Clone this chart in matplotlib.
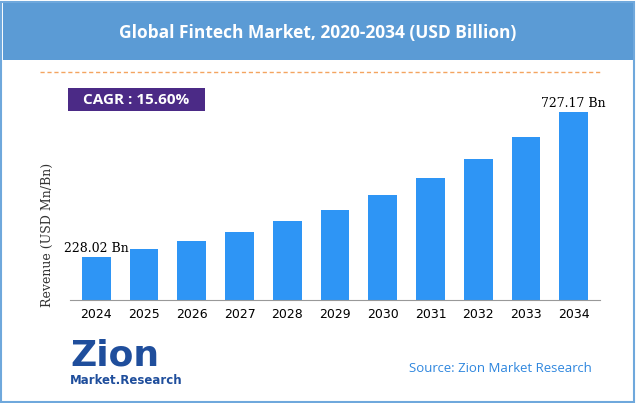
import matplotlib.pyplot as plt
from matplotlib.patches import Rectangle

years = ["2024", "2025", "2026", "2027", "2028", "2029", "2030", "2031", "2032", "2033", "2034"]
revenue = [228.02, 256, 283, 314, 352, 390, 441, 500, 565, 641, 727.17]
first_label = "228.02 Bn"
last_label = "727.17 Bn"

W, H = 636, 403
fig = plt.figure(figsize=(W / 100, H / 100), dpi=100)
fig.patch.set_facecolor("white")

# outer border and title banner
fig.add_artist(Rectangle((1 / W, 1 / H), 1 - 3 / W, 1 - 3 / H, transform=fig.transFigure,
                         fill=False, edgecolor="#6fa8dc", lw=1.5))
fig.add_artist(Rectangle((3 / W, 1 - 60 / H), 1 - 6 / W, 57 / H, transform=fig.transFigure,
                         facecolor="#5b9bd5", edgecolor="none"))
fig.text(0.5, 1 - 33 / H, "Global Fintech Market, 2020-2034 (USD Billion)", ha="center", va="center",
         color="white", fontsize=12.5, fontweight="bold", family="Open Sans")
fig.add_artist(plt.Line2D([40 / W, 600 / W], [1 - 72 / H, 1 - 72 / H], transform=fig.transFigure,
                          color="#f4a460", lw=1, ls=(0, (3, 2))))

# CAGR box
fig.add_artist(Rectangle((68 / W, 1 - 111 / H), 137 / W, 23 / H, transform=fig.transFigure,
                         facecolor="#4b2a86", edgecolor="none"))
fig.text(136 / W, 1 - 100 / H, "CAGR : 15.60%", ha="center", va="center", color="white",
         fontsize=11, fontweight="bold", family="Open Sans")

ax = fig.add_axes([70 / W, 1 - 300 / H, 530 / W, 200 / H])
x = range(len(years))
ax.bar(x, revenue, width=0.6, color="#2e95f5")
ax.set_ylim(80, 768)
ax.set_xlim(-0.55, len(years) - 0.45)
ax.set_xticks(list(x))
ax.set_xticklabels(years, fontsize=9, family="DejaVu Sans")
ax.tick_params(axis="x", length=0, pad=6)
ax.set_yticks([])
for s in ["top", "right", "left"]:
    ax.spines[s].set_visible(False)
ax.spines["bottom"].set_color("#999999")
ax.text(0, revenue[0] + 8, first_label, ha="center", va="bottom", fontsize=9, family="DejaVu Serif")
ax.text(len(years) - 1, revenue[-1] + 8, last_label, ha="center", va="bottom", fontsize=9, family="DejaVu Serif")
fig.text(47 / W, 1 - 235 / H, "Revenue (USD Mn/Bn)", rotation=90, ha="center", va="center",
         fontsize=9, family="DejaVu Serif", color="#333333")

# logo and source
fig.text(70 / W, 1 - 355 / H, "Zion", fontsize=26, fontweight="bold", color="#1f4e9c", va="center",
         family="DejaVu Sans")
fig.text(70 / W, 1 - 381 / H, "Market.Research", fontsize=8.5, fontweight="bold", color="#1f4e9c",
         va="center", family="DejaVu Sans")
fig.text(592 / W, 1 - 368 / H, "Source: Zion Market Research", ha="right", va="center",
         fontsize=9.5, color="#2e86de", family="Open Sans")

fig.savefig("out.png", dpi=100)
